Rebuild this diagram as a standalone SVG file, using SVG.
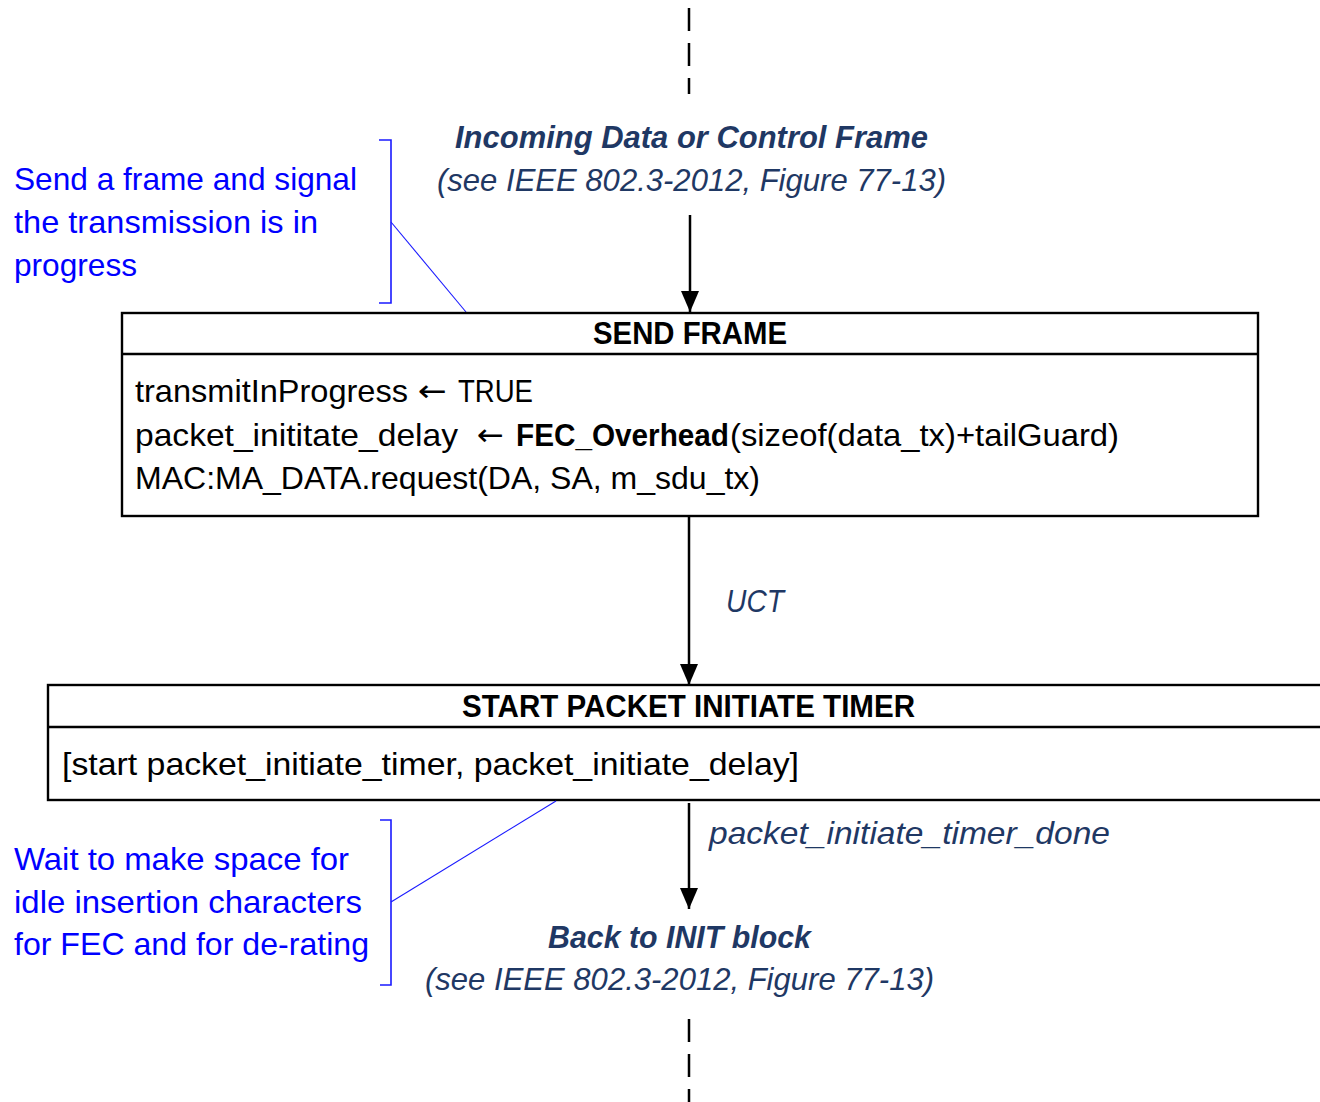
<svg xmlns="http://www.w3.org/2000/svg" width="1320" height="1102" viewBox="0 0 1320 1102">
  <style>
    text { font-family: "Liberation Sans", Arial, sans-serif; font-size: 31.5px; }
    .body { fill: #000000; }
    .arr { fill: #000000; font-family: "DejaVu Sans", sans-serif; font-size: 30px; }
    .hdr { fill: #000000; font-weight: bold; }
    .term { fill: #1F3864; font-style: italic; }
    .termb { fill: #1F3864; font-style: italic; font-weight: bold; }
    .lbl { fill: #1F3864; font-style: italic; }
    .note { fill: #0000FF; }
    .box { fill: #FFFFFF; stroke: #000000; stroke-width: 2.4; }
    .sep { stroke: #000000; stroke-width: 2.4; }
    .flow { stroke: #000000; stroke-width: 2.5; fill: none; }
    .dash { stroke: #000000; stroke-width: 2.5; fill: none; stroke-dasharray: 23 12; }
    .brk { stroke: #1A1AFF; stroke-width: 1.6; fill: none; }
    .lead { stroke: #1A1AFF; stroke-width: 1.1; fill: none; }
  </style>
  <defs>
    <marker id="ah" viewBox="0 0 21 18" refX="21" refY="9" markerWidth="21" markerHeight="18" markerUnits="userSpaceOnUse" orient="auto">
      <path d="M0,0 L21,9 L0,18 z" fill="#000000"/>
    </marker>
  </defs>
  <rect x="0" y="0" width="1320" height="1102" fill="#FFFFFF"/>

  <g id="connectors">
    <line class="dash" x1="689" y1="8" x2="689" y2="94"/>
    <line class="flow" x1="690" y1="215" x2="690" y2="312" marker-end="url(#ah)"/>
    <line class="flow" x1="689" y1="517" x2="689" y2="685" marker-end="url(#ah)"/>
    <line class="flow" x1="689" y1="803" x2="689" y2="909" marker-end="url(#ah)"/>
    <line class="dash" x1="689" y1="1019" x2="689" y2="1102"/>
    <text class="lbl" x="726" y="612" textLength="58" lengthAdjust="spacingAndGlyphs">UCT</text>
    <text class="lbl" x="709" y="844" textLength="401" lengthAdjust="spacingAndGlyphs">packet_initiate_timer_done</text>
  </g>

  <g id="incoming">
    <text class="termb" x="455" y="148" textLength="473" lengthAdjust="spacingAndGlyphs">Incoming Data or Control Frame</text>
    <text class="term" x="437" y="191" textLength="509" lengthAdjust="spacingAndGlyphs">(see IEEE 802.3-2012, Figure 77-13)</text>
  </g>

  <g id="note-send">
    <text class="note" x="14" y="190" textLength="343" lengthAdjust="spacingAndGlyphs">Send a frame and signal</text>
    <text class="note" x="14" y="233" textLength="304" lengthAdjust="spacingAndGlyphs">the transmission is in</text>
    <text class="note" x="14" y="276" textLength="123" lengthAdjust="spacingAndGlyphs">progress</text>
    <path class="brk" d="M379,140 H391 V303 H379"/>
    <line class="lead" x1="391" y1="222" x2="466" y2="312"/>
  </g>

  <g id="send-frame">
    <rect class="box" x="122" y="313" width="1136" height="203"/>
    <line class="sep" x1="122" y1="354" x2="1258" y2="354"/>
    <text class="hdr" x="593" y="344" textLength="194" lengthAdjust="spacingAndGlyphs">SEND FRAME</text>
    <text class="body" x="135" y="402" textLength="273" lengthAdjust="spacingAndGlyphs">transmitInProgress</text>
    <text class="arr" x="418" y="401" textLength="29" lengthAdjust="spacingAndGlyphs">←</text>
    <text class="body" x="458" y="402" textLength="75" lengthAdjust="spacingAndGlyphs">TRUE</text>
    <text class="body" x="135" y="446" textLength="323" lengthAdjust="spacingAndGlyphs">packet_inititate_delay</text>
    <text class="arr" x="477" y="445" textLength="27" lengthAdjust="spacingAndGlyphs">←</text>
    <text class="hdr" x="516" y="446" textLength="213" lengthAdjust="spacingAndGlyphs">FEC_Overhead</text>
    <text class="body" x="730" y="446" textLength="389" lengthAdjust="spacingAndGlyphs">(sizeof(data_tx)+tailGuard)</text>
    <text class="body" x="135" y="489" textLength="625" lengthAdjust="spacingAndGlyphs">MAC:MA_DATA.request(DA, SA, m_sdu_tx)</text>
  </g>

  <g id="start-timer">
    <rect class="box" x="48" y="685" width="1280" height="115"/>
    <line class="sep" x1="48" y1="727" x2="1328" y2="727"/>
    <text class="hdr" x="462" y="717" textLength="453" lengthAdjust="spacingAndGlyphs">START PACKET INITIATE TIMER</text>
    <text class="body" x="62" y="775" textLength="737" lengthAdjust="spacingAndGlyphs">[start packet_initiate_timer, packet_initiate_delay]</text>
  </g>

  <g id="note-wait">
    <text class="note" x="14" y="870" textLength="335" lengthAdjust="spacingAndGlyphs">Wait to make space for</text>
    <text class="note" x="14" y="913" textLength="348" lengthAdjust="spacingAndGlyphs">idle insertion characters</text>
    <text class="note" x="14" y="955" textLength="355" lengthAdjust="spacingAndGlyphs">for FEC and for de-rating</text>
    <path class="brk" d="M380,820 H391 V985 H380"/>
    <line class="lead" x1="391" y1="902" x2="556" y2="801"/>
  </g>

  <g id="back-init">
    <text class="termb" x="548" y="948" textLength="263" lengthAdjust="spacingAndGlyphs">Back to INIT block</text>
    <text class="term" x="425" y="990" textLength="509" lengthAdjust="spacingAndGlyphs">(see IEEE 802.3-2012, Figure 77-13)</text>
  </g>
</svg>
